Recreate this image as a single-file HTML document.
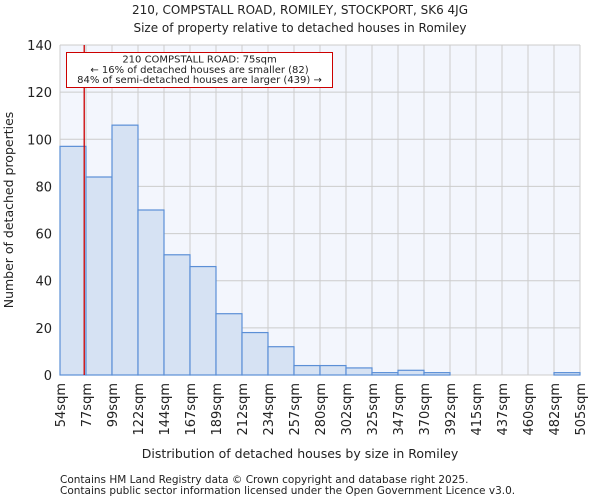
<!DOCTYPE html>
<html><head><meta charset="utf-8"><style>
body{margin:0;background:#fff;font-family:"DejaVu Sans","Liberation Sans",sans-serif}
svg text{font-family:"DejaVu Sans","Liberation Sans",sans-serif;fill:#222}
</style></head><body>
<svg id="c" width="600" height="500" xmlns="http://www.w3.org/2000/svg">
<text x="300" y="14" text-anchor="middle" font-size="12">210, COMPSTALL ROAD, ROMILEY, STOCKPORT, SK6 4JG</text>
<text x="300" y="32" text-anchor="middle" font-size="12">Size of property relative to detached houses in Romiley</text>
<g id="plot"></g>
<text x="300" y="458" text-anchor="middle" font-size="12.5">Distribution of detached houses by size in Romiley</text>
<text transform="translate(13,210) rotate(-90)" text-anchor="middle" font-size="12.5">Number of detached properties</text>
<text x="60" y="483" font-size="10.5" fill="#444">Contains HM Land Registry data © Crown copyright and database right 2025.</text>
<text x="60" y="494" font-size="10.5" fill="#444">Contains public sector information licensed under the Open Government Licence v3.0.</text>
</svg>
<script>
const tickLabels=["54sqm","77sqm","99sqm","122sqm","144sqm","167sqm","189sqm","212sqm","234sqm","257sqm","280sqm","302sqm","325sqm","347sqm","370sqm","392sqm","415sqm","437sqm","460sqm","482sqm","505sqm"];
const counts=[97,84,106,70,51,46,26,18,12,4,4,3,1,2,1,0,0,0,0,1];
const yTicks=[0,20,40,60,80,100,120,140];
const markerValue=75;
const binStart=54, binEnd=505;
const L=60,R=580,T=45,B=375,yMax=140;
const NS="http://www.w3.org/2000/svg";
const g=document.getElementById('plot');
const xb=i=>L+(R-L)*i/counts.length;
const xv=v=>L+(R-L)*(v-binStart)/(binEnd-binStart);
const y=v=>B-(B-T)*v/yMax;
function mk(t,a){const e=document.createElementNS(NS,t);for(const k in a)e.setAttribute(k,a[k]);g.appendChild(e);return e;}
let bg=mk('rect',{x:L,y:T,width:R-L,height:B-T,fill:'#f3f6fd'});


for(let i=0;i<=counts.length;i++){let l=mk('line',{x1:xb(i),x2:xb(i),y1:T,y2:B,stroke:'#cccccc','stroke-width':1});

}
yTicks.forEach(v=>{let l=mk('line',{x1:L,x2:R,y1:y(v),y2:y(v),stroke:'#cccccc','stroke-width':1});


let t=mk('text',{x:L-8,y:y(v)+5,'text-anchor':'end','font-size':13});t.textContent=v;

});
counts.forEach((c,i)=>{if(c<=0)return;let r=mk('rect',{x:xb(i),y:y(c),width:xb(i+1)-xb(i),height:B-y(c),fill:'#d6e2f3',stroke:'#5b8fd6','stroke-width':1.2});

});
tickLabels.forEach((s,i)=>{let t=mk('text',{transform:`translate(${xb(i)+5},${B+8}) rotate(-90)`,'text-anchor':'end','font-size':13});t.textContent=s;

});
let ml=mk('line',{x1:xv(markerValue),x2:xv(markerValue),y1:T,y2:B,stroke:'#cc0000','stroke-width':1.3});


let box=mk('rect',{x:66.5,y:52.5,width:266,height:35,fill:'#fff',stroke:'#cc0000','stroke-width':1});


["210 COMPSTALL ROAD: 75sqm","← 16% of detached houses are smaller (82)","84% of semi-detached houses are larger (439) →"].forEach((s,i)=>{let t=mk('text',{x:199.5,y:62.5+i*10.3,'text-anchor':'middle','font-size':10});t.textContent=s;

});
</script>
</body></html>
